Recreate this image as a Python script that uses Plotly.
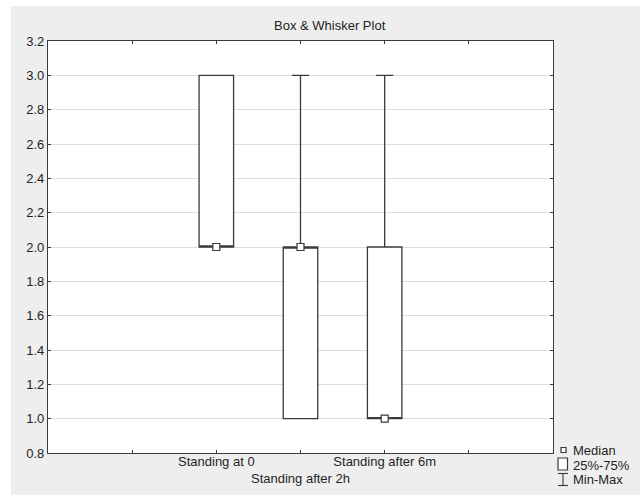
import plotly.graph_objects as go

# ---- data ----
categories = ["Standing at 0", "Standing after 2h", "Standing after 6m"]
cat_pos = [0, 1, 2]
mins = [2.0, 1.0, 1.0]
q1s = [2.0, 1.0, 1.0]
medians = [2.0, 2.0, 1.0]
q3s = [3.0, 2.0, 2.0]
maxs = [3.0, 3.0, 3.0]
tick_vals = [-1, 0, 1, 2, 3]
tick_text = ["", "Standing at 0", "<br>Standing after 2h", "Standing after 6m", ""]
y_ticks = [0.8, 1.0, 1.2, 1.4, 1.6, 1.8, 2.0, 2.2, 2.4, 2.6, 2.8, 3.0, 3.2]
legend_labels = ["Median", "25%-75%", "Min-Max"]

W, H = 640, 495
L, R, T, B = 48, 553, 41, 453
FONT = "Liberation Sans, Arial, sans-serif"
LINE = "#3a3a3a"


def px(x):
    return (x - L) / (R - L)


def py(y):
    return (B - y) / (B - T)


fig = go.Figure()
fig.add_trace(go.Box(
    x=cat_pos, q1=q1s, median=medians, q3=q3s,
    lowerfence=mins, upperfence=maxs,
    width=0.41, whiskerwidth=0.5,
    fillcolor="white", line=dict(color=LINE, width=1.3),
    boxpoints=False, showlegend=False, hoverinfo="skip",
))
fig.add_trace(go.Scatter(
    x=cat_pos, y=medians, mode="markers",
    marker=dict(symbol="square", size=7, color="white",
                line=dict(color=LINE, width=1.2)),
    showlegend=False, hoverinfo="skip",
))

shapes = [
    # gray window background with white outer strip
    dict(type="rect", xref="paper", yref="paper", layer="below",
         x0=px(11), x1=px(W + 5), y0=py(H + 5), y1=py(6),
         fillcolor="#eeeeee", line=dict(width=0)),
    dict(type="rect", xref="paper", yref="paper", layer="below",
         x0=0, x1=1, y0=0, y1=1, fillcolor="white", line=dict(width=0)),
    # legend icons
    dict(type="rect", xref="paper", yref="paper",
         x0=px(561), x1=px(566), y0=py(452.5), y1=py(447.5),
         fillcolor="white", line=dict(color=LINE, width=1.2)),
    dict(type="rect", xref="paper", yref="paper",
         x0=px(558), x1=px(567.5), y0=py(470), y1=py(458),
         fillcolor="white", line=dict(color=LINE, width=1.2)),
    dict(type="line", xref="paper", yref="paper",
         x0=px(563), x1=px(563), y0=py(485.5), y1=py(473.5),
         line=dict(color=LINE, width=1.1)),
    dict(type="line", xref="paper", yref="paper",
         x0=px(558), x1=px(568), y0=py(473.5), y1=py(473.5),
         line=dict(color=LINE, width=1.1)),
    dict(type="line", xref="paper", yref="paper",
         x0=px(558), x1=px(568), y0=py(485.5), y1=py(485.5),
         line=dict(color=LINE, width=1.1)),
]

annotations = []
for lab, yy in zip(legend_labels, [450, 464.5, 479]):
    annotations.append(dict(
        text=lab, xref="paper", yref="paper", x=px(572), y=py(yy),
        xanchor="left", yanchor="middle", showarrow=False, height=14,
        borderpad=0,
        font=dict(family=FONT, size=13, color="#1e1e1e")))
annotations.append(dict(
    text="Box & Whisker Plot", xref="paper", yref="paper",
    x=px(330), y=py(25), xanchor="center", yanchor="middle",
    showarrow=False, font=dict(family=FONT, size=13, color="#1e1e1e")))

fig.update_layout(
    width=W, height=H,
    margin=dict(l=L, r=W - R, t=T, b=H - B, pad=0, autoexpand=False),
    paper_bgcolor="white", plot_bgcolor="white",
    font=dict(family=FONT, size=13, color="#1e1e1e"),
    shapes=shapes, annotations=annotations,
    showlegend=False,
)
fig.update_xaxes(
    range=[-2, 4], tickmode="array", tickvals=tick_vals, ticktext=tick_text,
    tickangle=0, automargin=False, ticklabelstandoff=-4,
    ticks="inside", ticklen=3, tickcolor=LINE, tickwidth=1,
    showline=True, linecolor=LINE, linewidth=1.3, mirror="ticks",
    showgrid=False, zeroline=False,
    tickfont=dict(family=FONT, size=13, color="#1e1e1e"),
)
fig.update_yaxes(
    range=[0.8, 3.2], tickmode="array", tickvals=y_ticks,
    ticktext=[f"{v:.1f}" for v in y_ticks], automargin=False,
    ticks="inside", ticklen=3, tickcolor=LINE, tickwidth=1,
    showline=True, linecolor=LINE, linewidth=1.3, mirror="ticks",
    showgrid=True, gridcolor="#dddddd", gridwidth=1, zeroline=False,
    tickfont=dict(family=FONT, size=13, color="#1e1e1e"),
)

fig.write_html("out.html")
